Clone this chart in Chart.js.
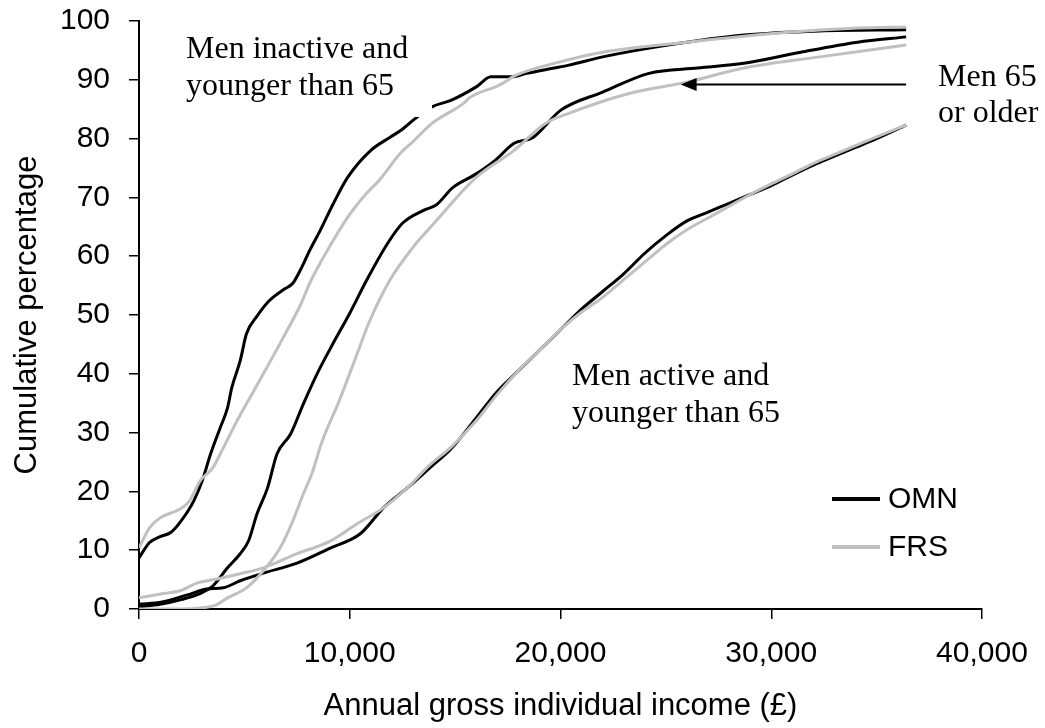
<!DOCTYPE html>
<html>
<head>
<meta charset="utf-8">
<title>Cumulative income distribution, men</title>
<script src="https://cdn.jsdelivr.net/npm/chart.js@4.4.1/dist/chart.umd.min.js"></script>
<style>
  html, body { margin: 0; padding: 0; background: #fff; }
</style>
</head>
<body>
<canvas id="chart" width="1045" height="728"></canvas>
<script>
// income (£) and cumulative % for each group, OMN and FRS samples
const inactiveOmnX = [0, 500, 1000, 1500, 2000, 2600, 3000, 3400, 3850, 4200, 4400, 4800, 5100, 5600, 6200, 6850, 7300, 7650, 8100, 8600, 9200, 9900, 11000, 11900, 12500, 13100, 13900, 14800, 16000, 16700, 17700, 18400, 19700, 20400, 22000, 25100, 28700, 32300, 36400];
const inactiveOmnY = [8.7, 11.3, 12.3, 13, 15, 18.4, 21.8, 26.4, 30.8, 34.2, 37.6, 42.2, 46.8, 49.8, 52.5, 54.3, 55.4, 57.6, 61, 64.4, 68.8, 73.4, 78, 80.2, 81.6, 83.4, 85.4, 86.5, 88.8, 90.5, 90.5, 91.1, 92, 92.5, 93.9, 95.9, 97.6, 98.3, 98.5];

const inactiveFrsX = [0, 500, 1000, 1950, 2400, 2900, 3500, 4000, 4650, 5100, 5900, 6850, 7700, 8100, 8750, 9900, 10800, 11400, 12400, 13000, 13900, 15400, 15700, 17100, 17900, 19700, 22000, 26000, 30500, 34100, 36400];
const inactiveFrsY = [10.4, 13.8, 15.5, 17, 18.4, 21.8, 24, 27.4, 32, 34.9, 40, 46.2, 52, 55.4, 59.8, 66.6, 70.7, 72.9, 77.5, 79.5, 82.6, 86, 87, 89.1, 90.8, 92.8, 94.7, 96.4, 98, 98.8, 99];

const olderOmnX = [0, 1000, 2000, 3000, 3500, 4200, 4800, 5200, 5600, 6100, 6550, 7200, 7800, 8450, 9200, 10000, 10800, 11800, 12500, 13500, 14100, 14900, 16000, 16900, 17800, 18700, 20000, 22000, 24200, 26500, 28700, 31400, 34100, 36400];
const olderOmnY = [0.4, 0.8, 1.6, 2.8, 3.9, 7, 9.4, 11.6, 16.2, 20.6, 26.4, 29.8, 34.9, 40, 45.1, 50.3, 55.9, 62.2, 65.6, 67.8, 68.7, 71.7, 74, 76.3, 79.2, 80.2, 84.8, 87.9, 91.1, 92, 92.8, 94.7, 96.4, 97.3];

const olderFrsX = [0, 2000, 3000, 3600, 4200, 5100, 5900, 6700, 7300, 7800, 8200, 8700, 9500, 10350, 10900, 11900, 13000, 14000, 16000, 17800, 19300, 20400, 23300, 26000, 28700, 32300, 36400];
const olderFrsY = [0, 0, 0.2, 0.6, 1.9, 3.6, 6.5, 10.4, 15, 19.6, 23, 28.6, 35.4, 43.4, 48.6, 55.9, 61.5, 65.6, 73.4, 78, 82.6, 84.3, 87.7, 89.6, 92, 93.9, 95.9];

const activeOmnX = [0, 1100, 2300, 3200, 4000, 4800, 5900, 7500, 9100, 10500, 11600, 12700, 13800, 14800, 16000, 17000, 18000, 19000, 20000, 21000, 22000, 23000, 24000, 25000, 26000, 27000, 28000, 29000, 30000, 31000, 32000, 33000, 34000, 35000, 36400];
const activeOmnY = [0.8, 1.2, 2.4, 3.4, 3.6, 4.8, 6.1, 7.8, 10.4, 12.8, 17.2, 20.5, 24, 27.2, 32.5, 37, 40.5, 44, 47.5, 51, 54, 57, 60.5, 63.5, 66, 67.5, 69, 70.5, 72, 73.8, 75.5, 77, 78.5, 80, 82.3];

const activeFrsX = [0, 1100, 1950, 2750, 3700, 4800, 5900, 7500, 9100, 10350, 11600, 12700, 13800, 14800, 16000, 17000, 18000, 19000, 20000, 21000, 22000, 23000, 24000, 25000, 26000, 27000, 28000, 29000, 30000, 31000, 32000, 33000, 34000, 35000, 36400];
const activeFrsY = [1.9, 2.6, 3.1, 4.4, 5.1, 6.0, 7.0, 9.4, 11.6, 14.5, 17.2, 20.5, 24.5, 27.5, 32, 36.5, 40.5, 44, 47.5, 50.5, 53, 56, 59, 62, 64.5, 66.5, 68.5, 70.5, 72.3, 74, 75.8, 77.3, 78.8, 80.3, 82.3];

const xTicks = [0, 10000, 20000, 30000, 40000];
const yTicks = [0, 10, 20, 30, 40, 50, 60, 70, 80, 90, 100];

const OMN_COLOR = '#000000';
const FRS_COLOR = '#c0c0c0';
const SANS = '"Liberation Sans", Arial, sans-serif';
const SERIF = '"Liberation Serif", "Times New Roman", serif';

function toPoints(xs, ys) {
	return xs.map(function (x, i) { return { x: x, y: ys[i] }; });
}

function line(label, xs, ys, color, order) {
	return {
		label: label,
		data: toPoints(xs, ys),
		borderColor: color,
		backgroundColor: color,
		borderWidth: 3,
		showLine: true,
		fill: false,
		pointRadius: 0,
		cubicInterpolationMode: 'monotone',
		order: order
	};
}

// labels, arrow and the small legend drawn over the plot
const notes = {
	id: 'notes',
	afterDatasetsDraw(chart) {
		const ctx = chart.ctx;
		const xs = chart.scales.x;
		const ys = chart.scales.y;
		ctx.save();

		// text box of the top-left label hides the line behind it
		ctx.fillStyle = '#fff';
		ctx.fillRect(172, 24, 260, 93);

		ctx.fillStyle = '#000';
		ctx.font = '32px ' + SERIF;
		ctx.textBaseline = 'alphabetic';
		ctx.textAlign = 'left';
		ctx.fillText('Men inactive and', 186, 58);
		ctx.fillText('younger than 65', 186, 95);
		ctx.fillText('Men 65', 938, 86);
		ctx.fillText('or older', 938, 122);
		ctx.fillText('Men active and', 572, 385);
		ctx.fillText('younger than 65', 572, 422);

		// arrow pointing at the 65+ curves
		const ay = ys.getPixelForValue(89.2);
		const x0 = xs.getPixelForValue(36400);
		const x1 = xs.getPixelForValue(25700);
		ctx.strokeStyle = '#000';
		ctx.lineWidth = 2;
		ctx.beginPath();
		ctx.moveTo(x0, ay);
		ctx.lineTo(x1 + 14, ay);
		ctx.stroke();
		ctx.beginPath();
		ctx.moveTo(x1, ay);
		ctx.lineTo(x1 + 16, ay - 6.5);
		ctx.lineTo(x1 + 16, ay + 6.5);
		ctx.closePath();
		ctx.fill();

		// legend
		const items = [chart.data.datasets[0], chart.data.datasets[1]];
		const names = ['OMN', 'FRS'];
		ctx.font = '30px ' + SANS;
		ctx.textBaseline = 'middle';
		items.forEach(function (ds, i) {
			const y = 499 + i * 48;
			ctx.strokeStyle = ds.borderColor;
			ctx.lineWidth = 4;
			ctx.beginPath();
			ctx.moveTo(832, y);
			ctx.lineTo(880, y);
			ctx.stroke();
			ctx.fillStyle = '#000';
			ctx.fillText(names[i], 888, y + 1);
		});
		ctx.restore();
	}
};

const data = {
	datasets: [
		line('OMN inactive', inactiveOmnX, inactiveOmnY, OMN_COLOR, 1),
		line('FRS inactive', inactiveFrsX, inactiveFrsY, FRS_COLOR, 0),
		line('OMN 65+', olderOmnX, olderOmnY, OMN_COLOR, 1),
		line('FRS 65+', olderFrsX, olderFrsY, FRS_COLOR, 0),
		line('OMN active', activeOmnX, activeOmnY, OMN_COLOR, 1),
		line('FRS active', activeFrsX, activeFrsY, FRS_COLOR, 0)
	]
};

const axisGrid = {
	drawOnChartArea: false,
	drawTicks: true,
	tickLength: 10,
	color: '#000',
	lineWidth: 1.5
};

const config = {
	type: 'scatter',
	data: data,
	options: {
		responsive: false,
		animation: false,
		layout: { padding: { top: 21, right: 63, bottom: 0, left: 0 } },
		plugins: {
			legend: { display: false },
			tooltip: { enabled: false }
		},
		scales: {
			x: {
				type: 'linear',
				min: 0,
				max: 40000,
				afterBuildTicks: function (scale) {
					scale.ticks = xTicks.map(function (v) { return { value: v }; });
				},
				ticks: {
					color: '#000',
					font: { family: SANS, size: 30 },
					padding: 17,
					maxRotation: 0,
					callback: function (v) { return v.toLocaleString('en-GB'); }
				},
				grid: axisGrid,
				border: { color: '#000', width: 2 },
				title: {
					display: true,
					text: 'Annual gross individual income (£)',
					color: '#000',
					font: { family: SANS, size: 31 },
					padding: { top: 0, bottom: 3 }
				},
				afterFit: function (scale) {
					scale.height = 119;
					scale.paddingLeft = 0;
					scale.paddingRight = 0;
				}
			},
			y: {
				min: 0,
				max: 100,
				afterBuildTicks: function (scale) {
					scale.ticks = yTicks.map(function (v) { return { value: v }; });
				},
				ticks: {
					color: '#000',
					font: { family: SANS, size: 30 },
					padding: 19
				},
				grid: axisGrid,
				border: { color: '#000', width: 2 },
				title: {
					display: true,
					text: 'Cumulative percentage',
					color: '#000',
					font: { family: SANS, size: 31 },
					padding: { top: 9, bottom: 0 }
				},
				afterFit: function (scale) {
					// keep the plot box fixed; tick padding would otherwise push the top down
					scale.width = 139;
					scale.paddingTop = 0;
					scale.paddingBottom = 0;
				}
			}
		}
	},
	plugins: [notes]
};

const myChart = new Chart(document.getElementById('chart').getContext('2d'), config);
</script>
</body>
</html>
